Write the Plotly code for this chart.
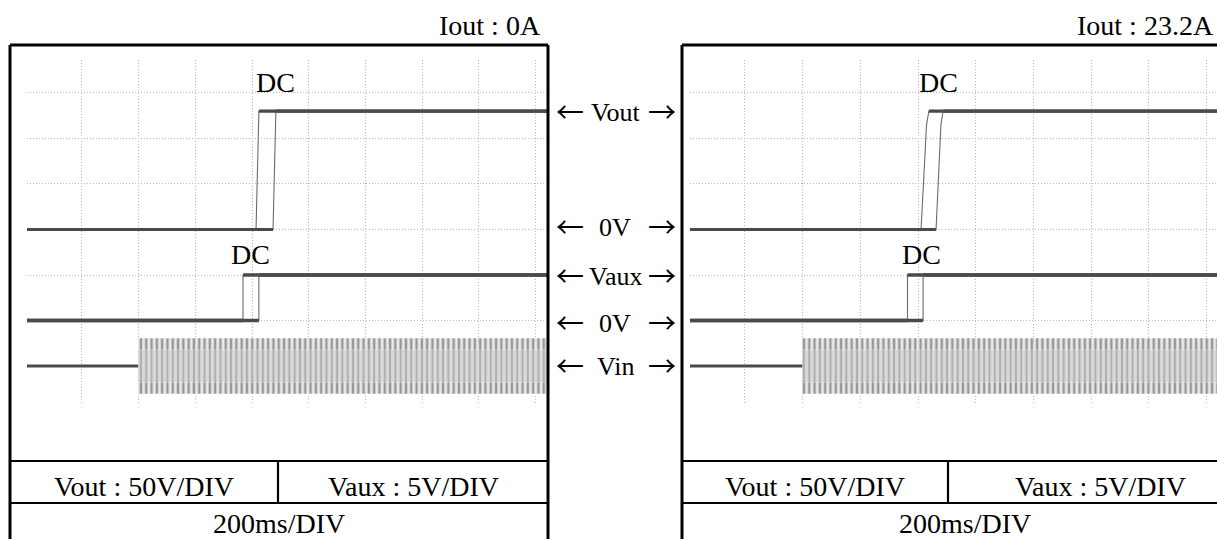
import plotly.graph_objects as go

W, H = 1217, 539

# ---------------- scope settings ----------------
MS_PER_DIV = 200
VOUT_V_PER_DIV = 50
VAUX_V_PER_DIV = 5
VIN_UNITS_PER_DIV = 1          # Vin drawn in divisions (no scale printed)
# screen zero positions of each channel (divisions from the Vout 0V graticule line)
VOUT_ZERO_DIV = 0
VAUX_ZERO_DIV = -2
VIN_ZERO_DIV = -3
SCREEN_DIV_RANGE = [-3.857, 3.725]

# ---------------- left capture : Iout 0A ----------------
L_t_end = 1838
L_vout_a_t = [0, 808, 818, L_t_end]
L_vout_b_t = [0, 868, 878, L_t_end]
L_vout_v = [0, 0, 130, 130]
L_vaux_a_t = [0, 762, 762, L_t_end]
L_vaux_b_t = [0, 818, 818, L_t_end]
L_vaux_v = [0, 0, 5, 5]
L_vin_flat_t = [0, 392]
L_vin_env_t = [392, L_t_end]

# ---------------- right capture : Iout 23.2A ----------------
R_t_end = 1827
R_vout_a_t = [0, 801, 820, 828, R_t_end]
R_vout_a_v = [0, 0, 115, 130, 130]
R_vout_b_t = [0, 853, 870, 877, R_t_end]
R_vout_b_v = [0, 0, 115, 130, 130]
R_vaux_a_t = [0, 754, 754, R_t_end]
R_vaux_b_t = [0, 808, 808, R_t_end]
R_vaux_v = [0, 0, 5, 5]
R_vin_flat_t = [0, 389]
R_vin_env_t = [389, R_t_end]

VIN_PEAK = 0.61      # envelope of the AC input, divisions
VIN_INNER = 0.36

# channel marker labels between the two screens
CH_LABELS = ["Vout", "0V", "Vaux", "0V", "Vin"]

SERIF = "Liberation Serif, Times New Roman, serif"
FONT = dict(family=SERIF, size=28, color="black")
FONT_MID = dict(family=SERIF, size=26, color="black")
FONT_ARROW = dict(family="Noto Sans CJK JP, sans-serif", size=28, color="black")
TRACE = "#4a4a4a"
EDGE = "#6a6a6a"


def px(x):
    return x / W


def py(y):
    return 1 - y / H


fig = go.Figure()


def add_step(t, v, xa, ya, thick=3.2, thin=1.1):
    fig.add_trace(go.Scatter(x=t, y=v, mode="lines", xaxis=xa, yaxis=ya,
                             line=dict(color=EDGE, width=thin), hoverinfo="skip"))
    xs = [t[0], t[1], None] + t[-2:]
    ys = [v[0], v[1], None] + v[-2:]
    fig.add_trace(go.Scatter(x=xs, y=ys, mode="lines", xaxis=xa, yaxis=ya,
                             line=dict(color=TRACE, width=thick), hoverinfo="skip"))


def add_vin(flat_t, env_t, xa, ya):
    xm = env_t + env_t[::-1]
    ym = [VIN_INNER, VIN_INNER, -VIN_INNER, -VIN_INNER]
    fig.add_trace(go.Scatter(x=xm, y=ym, mode="lines", fill="toself", xaxis=xa, yaxis=ya,
                             line=dict(width=0),
                             fillpattern=dict(shape="|", size=5.3, solidity=0.4,
                                              fgcolor="#858585", bgcolor="#dadada"),
                             hoverinfo="skip"))
    for a, b in ((VIN_INNER, VIN_PEAK), (-VIN_PEAK, -VIN_INNER)):
        fig.add_trace(go.Scatter(x=xm, y=[b, b, a, a], mode="lines", fill="toself",
                                 xaxis=xa, yaxis=ya, line=dict(width=0),
                                 fillpattern=dict(shape="|", size=5.3, solidity=0.45,
                                                  fgcolor="#454545", bgcolor="#e8e8e8"),
                                 hoverinfo="skip"))
    fig.add_trace(go.Scatter(x=flat_t, y=[0, 0], mode="lines", xaxis=xa, yaxis=ya,
                             line=dict(color=TRACE, width=3.2), hoverinfo="skip"))


# left panel: x / y (Vout, carries graticule), y3 Vaux, y4 Vin
add_vin(L_vin_flat_t, L_vin_env_t, "x", "y4")
add_step(L_vaux_a_t, L_vaux_v, "x", "y3", thick=3.6)
add_step(L_vaux_b_t, L_vaux_v, "x", "y3", thick=3.6)
add_step(L_vout_a_t, L_vout_v, "x", "y")
add_step(L_vout_b_t, L_vout_v, "x", "y")

# right panel: x2 / y2 (Vout, graticule), y5 Vaux, y6 Vin
add_vin(R_vin_flat_t, R_vin_env_t, "x2", "y6")
add_step(R_vaux_a_t, R_vaux_v, "x2", "y5", thick=3.6)
add_step(R_vaux_b_t, R_vaux_v, "x2", "y5", thick=3.6)
add_step(R_vout_a_t, R_vout_a_v, "x2", "y2")
add_step(R_vout_b_t, R_vout_b_v, "x2", "y2")


def ch_range(off, vpd):
    return [(SCREEN_DIV_RANGE[0] - off) * vpd, (SCREEN_DIV_RANGE[1] - off) * vpd]


ydom = [py(405), py(60)]
grid = dict(showgrid=True, gridcolor="#b8b8b8", griddash="1px,2px", gridwidth=1,
            zeroline=False, showticklabels=False, ticks="", showline=False, fixedrange=True)
hidden = dict(showgrid=False, zeroline=False, showticklabels=False, ticks="",
              showline=False, fixedrange=True, domain=ydom)

layout = dict(
    width=W, height=H, margin=dict(l=0, r=0, t=0, b=0),
    paper_bgcolor="white", plot_bgcolor="rgba(0,0,0,0)", showlegend=False,
    xaxis=dict(domain=[px(27), px(548)], range=[0, L_t_end], tick0=194, dtick=MS_PER_DIV,
               anchor="y", **grid),
    yaxis=dict(domain=ydom, range=ch_range(VOUT_ZERO_DIV, VOUT_V_PER_DIV), tick0=0,
               dtick=VOUT_V_PER_DIV, anchor="x", **grid),
    xaxis2=dict(domain=[px(690), 1], range=[0, R_t_end], tick0=190.6, dtick=MS_PER_DIV,
                anchor="y2", **grid),
    yaxis2=dict(domain=ydom, range=ch_range(VOUT_ZERO_DIV, VOUT_V_PER_DIV), tick0=0,
                dtick=VOUT_V_PER_DIV, anchor="x2", **grid),
    yaxis3=dict(overlaying="y", anchor="x", range=ch_range(VAUX_ZERO_DIV, VAUX_V_PER_DIV), **hidden),
    yaxis4=dict(overlaying="y", anchor="x", range=ch_range(VIN_ZERO_DIV, VIN_UNITS_PER_DIV), **hidden),
    yaxis5=dict(overlaying="y2", anchor="x2", range=ch_range(VAUX_ZERO_DIV, VAUX_V_PER_DIV), **hidden),
    yaxis6=dict(overlaying="y2", anchor="x2", range=ch_range(VIN_ZERO_DIV, VIN_UNITS_PER_DIV), **hidden),
)
fig.update_layout(**layout)

shapes = []


def line(x0, y0, x1, y1, w=3):
    shapes.append(dict(type="line", xref="paper", yref="paper", x0=px(x0), y0=py(y0),
                       x1=px(x1), y1=py(y1), line=dict(color="black", width=w)))


line(10, 45, 548, 45)
line(10, 45, 10, 545)
line(548, 45, 548, 545)
line(10, 461, 548, 461, 2.2)
line(10, 503, 548, 503, 2.2)
line(278, 461, 278, 503, 2.2)
line(682, 45, 1225, 45)
line(682, 45, 682, 545)
line(682, 461, 1225, 461, 2.2)
line(682, 503, 1225, 503, 2.2)
line(948, 461, 948, 503, 2.2)
fig.update_layout(shapes=shapes)

texts = [
    ("Iout : 0A", 543, 26, "right", FONT),
    ("Iout : 23.2A", 1216, 26, "right", FONT),
    ("DC", 275, 82, "center", FONT),
    ("DC", 250, 254, "center", FONT),
    ("DC", 938, 82, "center", FONT),
    ("DC", 921, 254, "center", FONT),
    ("Vout : 50V/DIV", 144, 486, "center", FONT),
    ("Vaux : 5V/DIV", 413, 486, "center", FONT),
    ("200ms/DIV", 279, 523, "center", FONT),
    ("Vout : 50V/DIV", 815, 486, "center", FONT),
    ("Vaux : 5V/DIV", 1100, 486, "center", FONT),
    ("200ms/DIV", 965, 523, "center", FONT),
]
label_y = [112, 227, 276, 323, 366]
for lab, y in zip(CH_LABELS, label_y):
    texts.append((lab, 615, y, "center", FONT_MID))
    texts.append(("←", 570, y - 1, "center", FONT_ARROW))
    texts.append(("→", 662, y - 1, "center", FONT_ARROW))

for txt, x, y, al, f in texts:
    fig.add_annotation(text=txt, x=px(x), y=py(y), xref="paper", yref="paper",
                       xanchor=al, yanchor="middle", showarrow=False, font=f)

fig.write_html("out.html")
